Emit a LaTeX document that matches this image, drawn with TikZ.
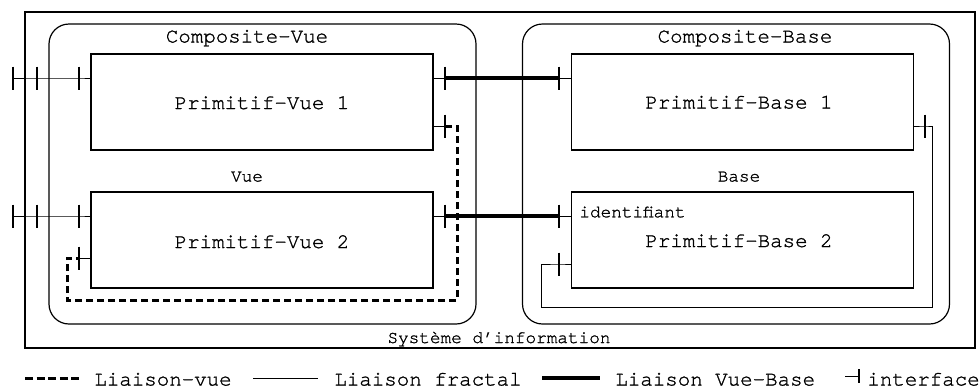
\documentclass[tikz,border=0pt]{standalone}
\usepackage{fontspec}
\newfontfamily\monofnt[FakeBold=1.2]{TeX Gyre Cursor}
\begin{document}
\begin{tikzpicture}[x=0.5pt,y=-0.5pt,
  bigtxt/.style={font=\monofnt\fontsize{10.4}{12}\selectfont, inner sep=0pt},
  smalltxt/.style={font=\monofnt\fontsize{8.85}{10}\selectfont, inner sep=0pt},
  prim/.style={draw, line width=0.6pt, inner sep=0pt, outer sep=0pt, minimum width=171pt, minimum height=48pt},
  comp/.style={draw, line width=0.6pt, rounded corners=10pt, inner sep=0pt, outer sep=0pt, minimum width=213.5pt, minimum height=150pt},
  sysbox/.style={draw, line width=0.6pt, inner sep=0pt, outer sep=0pt, minimum width=475pt, minimum height=168pt},
  fract/.style={line width=0.5pt},
  vbase/.style={line width=1.6pt},
  lvue/.style={line width=1.5pt, dash pattern=on 3.5pt off 2pt},
  pics/itick/.style={code={\draw[line width=1pt] (0,-11.5) -- (0,11.5);}},
  pics/ltick/.style={code={\draw[line width=0.8pt] (0,-7) -- (0,7);}}
]
\useasboundingbox (0,0) rectangle (980,387);

% containers
\node[sysbox] (si) at (500,180) {};
\node[comp] (cv) at (262.5,174) {};
\node[comp] (cb) at (736,174) {};
\node[prim] (pv1) at (262,102) {};
\node[prim] (pv2) at (262,240) {};
\node[prim] (pb1) at (742.5,102) {};
\node[prim] (pb2) at (742.5,240) {};

% labels
\node[bigtxt, anchor=base] (tcv) at (247,42.5) {Composite-Vue};
\node[bigtxt, anchor=base] (tcb) at (745,42.5) {Composite-Base};
\node[bigtxt, anchor=base] (tpv1) at (262,109) {Primitif-Vue 1};
\node[bigtxt, anchor=base] (tpv2) at (262,248) {Primitif-Vue 2};
\node[bigtxt, anchor=base] (tpb1) at (739,108.5) {Primitif-Base 1};
\node[bigtxt, anchor=base] (tpb2) at (739,247) {Primitif-Base 2};
\node[smalltxt, anchor=base] (tvue) at (247,181.5) {Vue};
\node[smalltxt, anchor=base] (tbase) at (739,181.5) {Base};
\node[smalltxt, anchor=base west] (tid) at (579,217.3) {identifiant};
\node[smalltxt, anchor=base] (tsi) at (499,343) {Système d’information};

% interface coordinates
\coordinate (a1) at (13,78);
\coordinate (b1) at (37,78);
\coordinate (c1) at (79,78);
\coordinate (a2) at (13,216);
\coordinate (b2) at (37,216);
\coordinate (c2) at (79,216);
\coordinate (r1a) at (445,78);
\coordinate (r1b) at (559,78);
\coordinate (r2a) at (445,216);
\coordinate (r2b) at (559,216);
\coordinate (d0) at (445,126);
\coordinate (d1) at (79,258);
\coordinate (f0) at (925,126);
\coordinate (f1) at (559,264);

% left fractal links
\draw[fract] (a1) -- (b1) -- (c1) -- (pv1.west |- c1);
\draw[fract] (a2) -- (b2) -- (c2) -- (pv2.west |- c2);
\foreach \p in {a1,b1,c1,a2,b2,c2} \pic at (\p) {itick};

% vue-base links
\draw[fract] (pv1.east |- r1a) -- (r1a);
\draw[vbase] (r1a) -- (r1b);
\draw[fract] (r1b) -- (pb1.west |- r1b);
\draw[fract] (pv2.east |- r2a) -- (r2a);
\draw[vbase] (r2a) -- (r2b);
\draw[fract] (r2b) -- (pb2.west |- r2b);
\foreach \p in {r1a,r1b,r2a,r2b} \pic at (\p) {itick};

% liaison-vue (dashed)
\draw[fract] (pv1.east |- d0) -- (d0);
\draw[lvue] (d0) -- (457,126) -- (457,300) -- (67,300) -- (67,258) -- (d1);
\draw[fract] (d1) -- (pv2.west |- d1);
\pic at (d0) {itick};
\pic at (d1) {itick};

% liaison fractal base
\draw[fract] (pb1.east |- f0) -- (f0) -- (932,126) -- (932,307) -- (541,307) -- (541,264) -- (f1) -- (pb2.west |- f1);
\pic at (f0) {itick};
\pic at (f1) {itick};

% legend
\coordinate (lg1a) at (25,378);
\coordinate (lg1b) at (80,378);
\coordinate (lg2a) at (253,378);
\coordinate (lg2b) at (318,378);
\coordinate (lg3a) at (542,378);
\coordinate (lg3b) at (600,378);
\coordinate (lg4a) at (845,376);
\coordinate (lg4b) at (859,376);
\draw[line width=1.5pt, dash pattern=on 4pt off 1.8pt] (lg1a) -- (lg1b);
\node[bigtxt, anchor=base west] (l1) at (94,385.5) {Liaison-vue};
\draw[fract] (lg2a) -- (lg2b);
\node[bigtxt, anchor=base west] (l2) at (334,385.5) {Liaison fractal};
\draw[vbase] (lg3a) -- (lg3b);
\node[bigtxt, anchor=base west] (l3) at (615,385.5) {Liaison Vue-Base};
\draw[fract] (lg4a) -- (lg4b);
\pic at (lg4b) {ltick};
\node[bigtxt, anchor=base west] (l4) at (867,385.5) {interface};
\end{tikzpicture}
\end{document}
